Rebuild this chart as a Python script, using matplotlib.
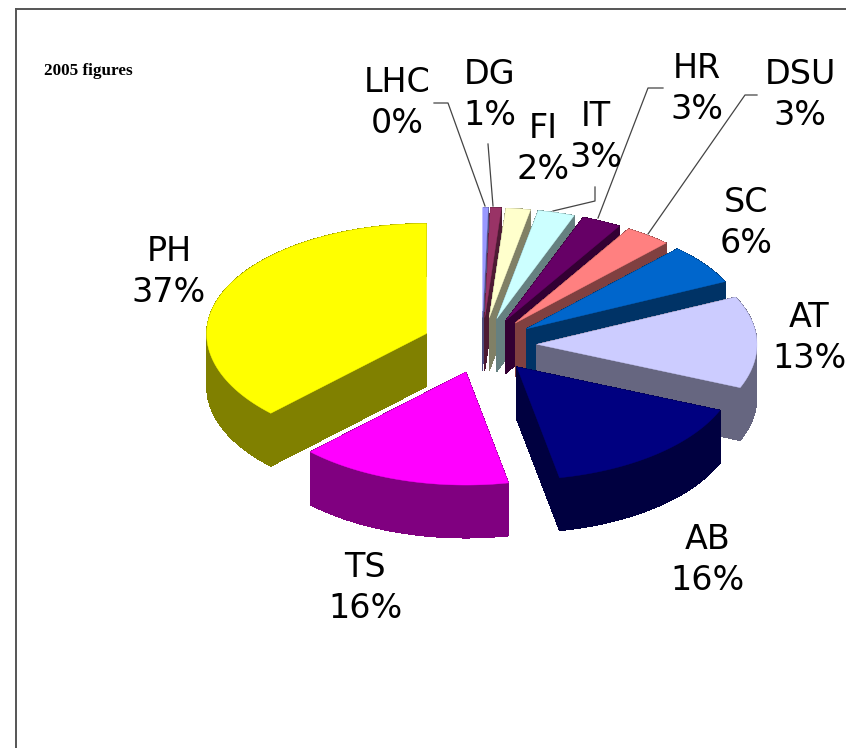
import numpy as np
import matplotlib
matplotlib.use("Agg")
import matplotlib.pyplot as plt
from matplotlib.patches import Polygon

OUT = "out.png"

# in clockwise order from 12 o'clock
NAMES = ["LHC", "DG", "FI", "IT", "HR", "DSU", "SC", "AT", "AB", "TS", "PH"]
VALUES = [0.4, 0.8, 1.8, 2.7, 2.9, 3.4, 5.9, 13.3, 15.6, 15.6, 37.4]
PCT_LABELS = ["0%", "1%", "2%", "3%", "3%", "3%", "6%", "13%", "16%", "16%", "37%"]
TOP_COLORS = ["#9999FF", "#993366", "#FFFFCC", "#CCFFFF", "#660066", "#FF8080",
              "#0066CC", "#CCCCFF", "#000080", "#FF00FF", "#FFFF00"]

# where the labels sit, in image pixels
LABEL_POS = {"LHC": (397, 103), "DG": (490, 95), "FI": (543, 149), "IT": (596, 137),
             "HR": (697, 89), "DSU": (800, 95), "SC": (746, 223), "AT": (809, 338),
             "AB": (708, 560), "PH": (169, 272), "TS": (365, 588)}

LEADERS = [[(434, 103), (448, 103), (485, 206)],
           [(488, 144), (493, 206)],
           [(595, 187), (595, 201), (553, 211)],
           [(663, 88), (648, 88), (598, 218)],
           [(757, 95), (745, 95), (648, 234)]]

CX, CY = 482, 345
RX, RY_BACK, RY_FRONT = 220, 110, 113
EXPLODE = {"PH": 60}
EXPLODE_DEFAULT = 55
DEPTH = 53


def darker(color):
    rgb = np.array(matplotlib.colors.to_rgb(color))
    return tuple(rgb * 0.5)


def squash(c):
    # the front of the pie looks a bit deeper than the back
    return np.where(c >= 0, RY_BACK, RY_FRONT) * c


def slice_outline(name, start, end):
    # start/end are clockwise fractions of the circle from 12 o'clock
    dist = EXPLODE.get(name, EXPLODE_DEFAULT)
    mid = (start + end) / 2 * 2 * np.pi
    ox = CX + dist * np.sin(mid)
    oy = CY - dist * squash(np.cos(mid)) / RX
    t = np.linspace(start, end, 80) * 2 * np.pi
    xs = ox + RX * np.sin(t)
    ys = oy - squash(np.cos(t))
    return np.vstack([[ox, oy], np.column_stack([xs, ys])])


def main():
    fig = plt.figure(figsize=(8.46, 7.48), dpi=100)
    ax = fig.add_axes([0, 0, 1, 1])
    ax.set_xlim(0, 846)
    ax.set_ylim(748, 0)
    ax.axis("off")

    # chart frame, runs off the right and bottom of the picture
    ax.plot([16, 16], [748, 9], color="#555555", lw=1.4)
    ax.plot([16, 846], [9, 9], color="#555555", lw=1.4)

    ax.text(44, 71, "2005 figures", family="Liberation Serif", weight="bold",
            fontsize=12.3, va="center", ha="left", color="black")

    fractions = np.array(VALUES) / sum(VALUES)
    ends = np.cumsum(fractions)
    starts = ends - fractions

    for i, name in enumerate(NAMES):
        top = TOP_COLORS[i]
        side = darker(top)
        pts = slice_outline(name, starts[i], ends[i])
        closed = np.vstack([pts, pts[:1]])
        # side walls: one quad for every edge of the top face
        for a, b in zip(closed[:-1], closed[1:]):
            quad = [a, b, b + [0, DEPTH], a + [0, DEPTH]]
            ax.add_patch(Polygon(quad, closed=True, fc=side, ec="none", antialiased=False))
        ax.add_patch(Polygon(pts, closed=True, fc=top, ec=top, lw=0.3))

    for line in LEADERS:
        xs, ys = zip(*line)
        ax.plot(xs, ys, color="#444444", lw=0.9)

    for i, name in enumerate(NAMES):
        x, y = LABEL_POS[name]
        ax.text(x, y, name + "\n" + PCT_LABELS[i], ha="center", va="center",
                fontsize=24, linespacing=1.29, color="black",
                family="DejaVu Sans", multialignment="center")

    fig.savefig(OUT, dpi=100)


if __name__ == "__main__":
    main()
